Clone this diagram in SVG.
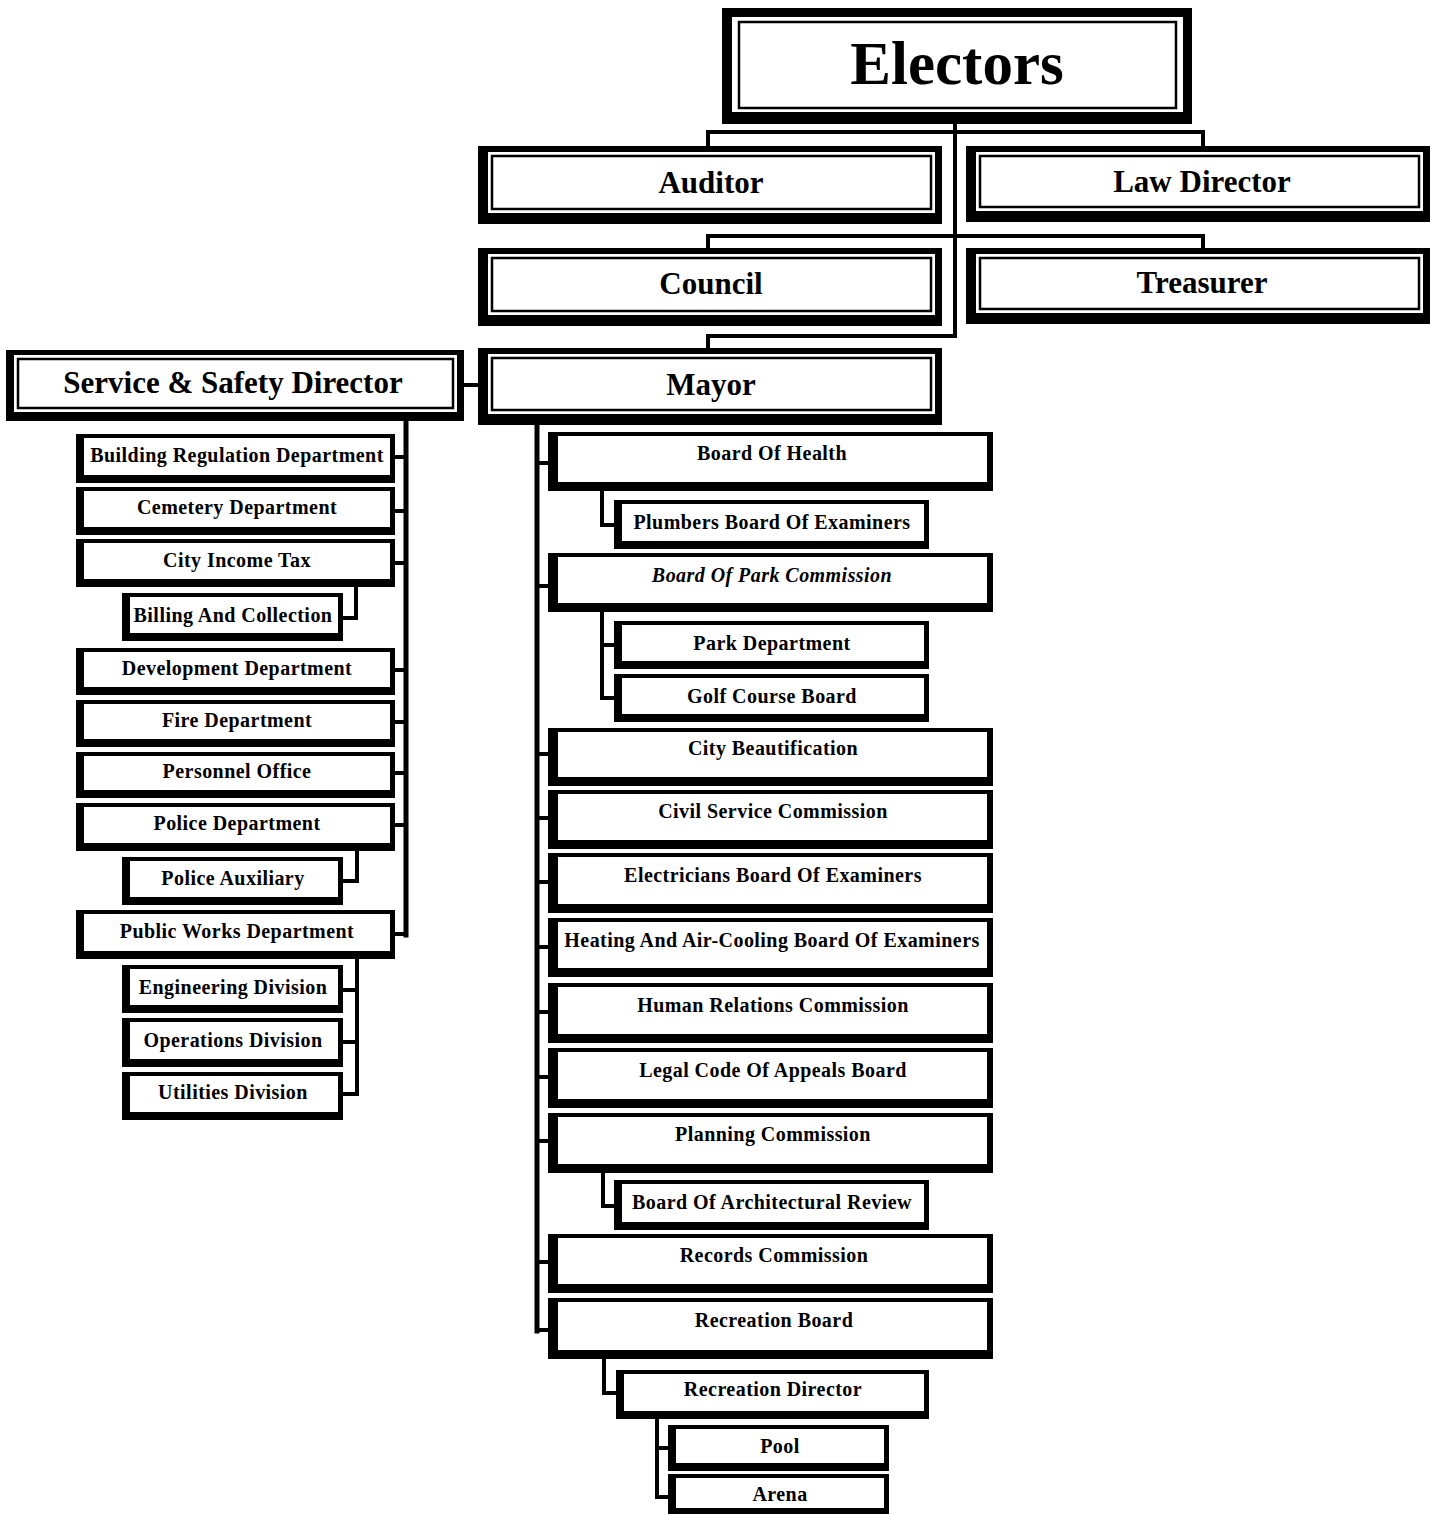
<svg xmlns="http://www.w3.org/2000/svg" width="1432" height="1514" viewBox="0 0 1432 1514">
<style>
.bk{fill:#000}
.wh{fill:#fff}
.ln{fill:none;stroke:#000;stroke-width:2.5}
.c{fill:none;stroke:#000;stroke-width:4;stroke-linecap:square}
.t{font-family:"Liberation Serif","Times New Roman",serif;font-weight:bold;font-size:20px;letter-spacing:0.45px;text-anchor:middle;fill:#000}
.h{font-family:"Liberation Serif","Times New Roman",serif;font-weight:bold;font-size:31px;text-anchor:middle;fill:#000}
.it{font-style:italic}
</style>
<rect width="1432" height="1514" fill="#fff"/>

<g id="connectors">
  <path class="c" d="M955 124 V336 H708 V348"/>
  <path class="c" d="M708 146 V132 H1203 V146"/>
  <path class="c" d="M708 248 V236 H1203 V248"/>
  <path class="c" d="M464 385 H478"/>
  <path class="c" style="stroke-width:5" d="M406 420 V935"/>
  <path class="c" d="M394 457 H406 M394 511 H406 M394 563 H406 M394 670 H406 M394 722 H406 M394 773 H406 M394 825 H406 M394 934 H406"/>
  <path class="c" d="M356 587 V618 H343"/>
  <path class="c" d="M357 851 V881 H343"/>
  <path class="c" d="M357 959 V1094 M343 990 H357 M343 1042 H357 M343 1094 H357"/>
  <path class="c" style="stroke-width:5" d="M537 426 V1331"/>
  <path class="c" d="M537 463 H548 M537 586 H548 M537 754 H548 M537 818 H548 M537 882 H548 M537 947 H548 M537 1012 H548 M537 1077 H548 M537 1141 H548 M537 1262 H548 M537 1330 H548"/>
  <path class="c" d="M602 491 V525 H614"/>
  <path class="c" d="M602 612 V698 H614 M602 645 H614"/>
  <path class="c" d="M603 1173 V1206 H614"/>
  <path class="c" d="M604 1359 V1393 H616"/>
  <path class="c" d="M657 1419 V1497 H668 M657 1448 H668"/>
</g>

<g id="electors">
  <rect class="bk" x="722" y="8" width="470" height="116"/>
  <rect class="wh" x="732" y="17" width="451" height="95"/>
  <rect class="ln" x="739" y="22" width="437" height="86"/>
  <text class="h" style="font-size:61px" x="957" y="84">Electors</text>
</g>
<g id="auditor">
  <rect class="bk" x="478" y="146" width="464" height="78"/>
  <rect class="wh" x="488" y="152" width="447" height="61"/>
  <rect class="ln" x="492" y="156" width="439" height="53"/>
  <text class="h" x="711" y="193">Auditor</text>
</g>
<g id="law-director">
  <rect class="bk" x="966" y="146" width="464" height="76"/>
  <rect class="wh" x="976" y="152" width="447" height="59"/>
  <rect class="ln" x="980" y="156" width="439" height="51"/>
  <text class="h" x="1202" y="192">Law Director</text>
</g>
<g id="council">
  <rect class="bk" x="478" y="248" width="464" height="78"/>
  <rect class="wh" x="488" y="254" width="447" height="61"/>
  <rect class="ln" x="492" y="258" width="439" height="53"/>
  <text class="h" x="711" y="294">Council</text>
</g>
<g id="treasurer">
  <rect class="bk" x="966" y="248" width="464" height="76"/>
  <rect class="wh" x="976" y="254" width="447" height="59"/>
  <rect class="ln" x="980" y="258" width="439" height="51"/>
  <text class="h" x="1202" y="293">Treasurer</text>
</g>
<g id="mayor">
  <rect class="bk" x="478" y="348" width="464" height="77"/>
  <rect class="wh" x="488" y="354" width="447" height="60"/>
  <rect class="ln" x="492" y="358" width="439" height="52"/>
  <text class="h" x="711" y="395">Mayor</text>
</g>
<g id="service-safety-director">
  <rect class="bk" x="6" y="350" width="458" height="71"/>
  <rect class="wh" x="14" y="355" width="443" height="57"/>
  <rect class="ln" x="18" y="359" width="435" height="49"/>
  <text class="h" x="233" y="393">Service &amp; Safety Director</text>
</g>

<!-- Left column -->
<g id="building-regulation">
  <rect class="bk" x="76" y="434" width="319" height="49"/>
  <rect class="wh" x="84" y="438" width="306" height="37"/>
  <text class="t" x="237" y="462">Building Regulation Department</text>
</g>
<g id="cemetery">
  <rect class="bk" x="76" y="487" width="319" height="48"/>
  <rect class="wh" x="84" y="491" width="306" height="36"/>
  <text class="t" x="237" y="514">Cemetery Department</text>
</g>
<g id="city-income-tax">
  <rect class="bk" x="76" y="539" width="319" height="48"/>
  <rect class="wh" x="84" y="543" width="306" height="36"/>
  <text class="t" x="237" y="567">City Income Tax</text>
</g>
<g id="billing-collection">
  <rect class="bk" x="122" y="593" width="221" height="48"/>
  <rect class="wh" x="130" y="597" width="208" height="36"/>
  <text class="t" x="233" y="622">Billing And Collection</text>
</g>
<g id="development">
  <rect class="bk" x="76" y="648" width="319" height="47"/>
  <rect class="wh" x="84" y="652" width="306" height="35"/>
  <text class="t" x="237" y="675">Development Department</text>
</g>
<g id="fire">
  <rect class="bk" x="76" y="700" width="319" height="47"/>
  <rect class="wh" x="84" y="704" width="306" height="35"/>
  <text class="t" x="237" y="727">Fire Department</text>
</g>
<g id="personnel">
  <rect class="bk" x="76" y="752" width="319" height="46"/>
  <rect class="wh" x="84" y="756" width="306" height="34"/>
  <text class="t" x="237" y="778">Personnel Office</text>
</g>
<g id="police">
  <rect class="bk" x="76" y="803" width="319" height="48"/>
  <rect class="wh" x="84" y="807" width="306" height="36"/>
  <text class="t" x="237" y="830">Police Department</text>
</g>
<g id="police-auxiliary">
  <rect class="bk" x="122" y="857" width="221" height="48"/>
  <rect class="wh" x="130" y="861" width="208" height="36"/>
  <text class="t" x="233" y="885">Police Auxiliary</text>
</g>
<g id="public-works">
  <rect class="bk" x="76" y="910" width="319" height="49"/>
  <rect class="wh" x="84" y="914" width="306" height="37"/>
  <text class="t" x="237" y="938">Public Works Department</text>
</g>
<g id="engineering">
  <rect class="bk" x="122" y="965" width="221" height="48"/>
  <rect class="wh" x="130" y="969" width="208" height="36"/>
  <text class="t" x="233" y="994">Engineering Division</text>
</g>
<g id="operations">
  <rect class="bk" x="122" y="1018" width="221" height="49"/>
  <rect class="wh" x="130" y="1022" width="208" height="37"/>
  <text class="t" x="233" y="1047">Operations Division</text>
</g>
<g id="utilities">
  <rect class="bk" x="122" y="1072" width="221" height="48"/>
  <rect class="wh" x="130" y="1076" width="208" height="36"/>
  <text class="t" x="233" y="1099">Utilities Division</text>
</g>

<!-- Right column -->
<g id="board-of-health">
  <rect class="bk" x="548" y="432" width="445" height="59"/>
  <rect class="wh" x="558" y="436" width="429" height="46"/>
  <text class="t" x="772" y="460">Board Of Health</text>
</g>
<g id="plumbers">
  <rect class="bk" x="614" y="500" width="315" height="49"/>
  <rect class="wh" x="622" y="504" width="302" height="37"/>
  <text class="t" x="772" y="529">Plumbers Board Of Examiners</text>
</g>
<g id="park-commission">
  <rect class="bk" x="548" y="553" width="445" height="59"/>
  <rect class="wh" x="558" y="557" width="429" height="46"/>
  <text class="t it" x="772" y="582">Board Of Park Commission</text>
</g>
<g id="park-department">
  <rect class="bk" x="614" y="621" width="315" height="48"/>
  <rect class="wh" x="622" y="625" width="302" height="36"/>
  <text class="t" x="772" y="650">Park Department</text>
</g>
<g id="golf-course">
  <rect class="bk" x="614" y="674" width="315" height="48"/>
  <rect class="wh" x="622" y="678" width="302" height="36"/>
  <text class="t" x="772" y="703">Golf Course Board</text>
</g>
<g id="city-beautification">
  <rect class="bk" x="548" y="728" width="445" height="58"/>
  <rect class="wh" x="558" y="732" width="429" height="45"/>
  <text class="t" x="773" y="755">City Beautification</text>
</g>
<g id="civil-service">
  <rect class="bk" x="548" y="790" width="445" height="59"/>
  <rect class="wh" x="558" y="794" width="429" height="46"/>
  <text class="t" x="773" y="818">Civil Service Commission</text>
</g>
<g id="electricians">
  <rect class="bk" x="548" y="853" width="445" height="60"/>
  <rect class="wh" x="558" y="857" width="429" height="47"/>
  <text class="t" x="773" y="882">Electricians Board Of Examiners</text>
</g>
<g id="heating">
  <rect class="bk" x="548" y="918" width="445" height="59"/>
  <rect class="wh" x="558" y="922" width="429" height="46"/>
  <text class="t" x="772" y="947">Heating And Air-Cooling Board Of Examiners</text>
</g>
<g id="human-relations">
  <rect class="bk" x="548" y="983" width="445" height="60"/>
  <rect class="wh" x="558" y="987" width="429" height="47"/>
  <text class="t" x="773" y="1012">Human Relations Commission</text>
</g>
<g id="legal-code">
  <rect class="bk" x="548" y="1048" width="445" height="60"/>
  <rect class="wh" x="558" y="1052" width="429" height="47"/>
  <text class="t" x="773" y="1077">Legal Code Of Appeals Board</text>
</g>
<g id="planning">
  <rect class="bk" x="548" y="1113" width="445" height="60"/>
  <rect class="wh" x="558" y="1117" width="429" height="47"/>
  <text class="t" x="773" y="1141">Planning Commission</text>
</g>
<g id="architectural-review">
  <rect class="bk" x="614" y="1180" width="315" height="50"/>
  <rect class="wh" x="622" y="1184" width="302" height="38"/>
  <text class="t" x="772" y="1209">Board Of Architectural Review</text>
</g>
<g id="records">
  <rect class="bk" x="548" y="1234" width="445" height="59"/>
  <rect class="wh" x="558" y="1238" width="429" height="46"/>
  <text class="t" x="774" y="1262">Records Commission</text>
</g>
<g id="recreation-board">
  <rect class="bk" x="548" y="1298" width="445" height="61"/>
  <rect class="wh" x="558" y="1302" width="429" height="48"/>
  <text class="t" x="774" y="1327">Recreation Board</text>
</g>
<g id="recreation-director">
  <rect class="bk" x="616" y="1370" width="313" height="49"/>
  <rect class="wh" x="624" y="1374" width="300" height="37"/>
  <text class="t" x="773" y="1396">Recreation Director</text>
</g>
<g id="pool">
  <rect class="bk" x="668" y="1425" width="221" height="46"/>
  <rect class="wh" x="676" y="1429" width="208" height="34"/>
  <text class="t" x="780" y="1453">Pool</text>
</g>
<g id="arena">
  <rect class="bk" x="668" y="1474" width="221" height="40"/>
  <rect class="wh" x="676" y="1478" width="208" height="30"/>
  <text class="t" x="780" y="1501">Arena</text>
</g>
</svg>
